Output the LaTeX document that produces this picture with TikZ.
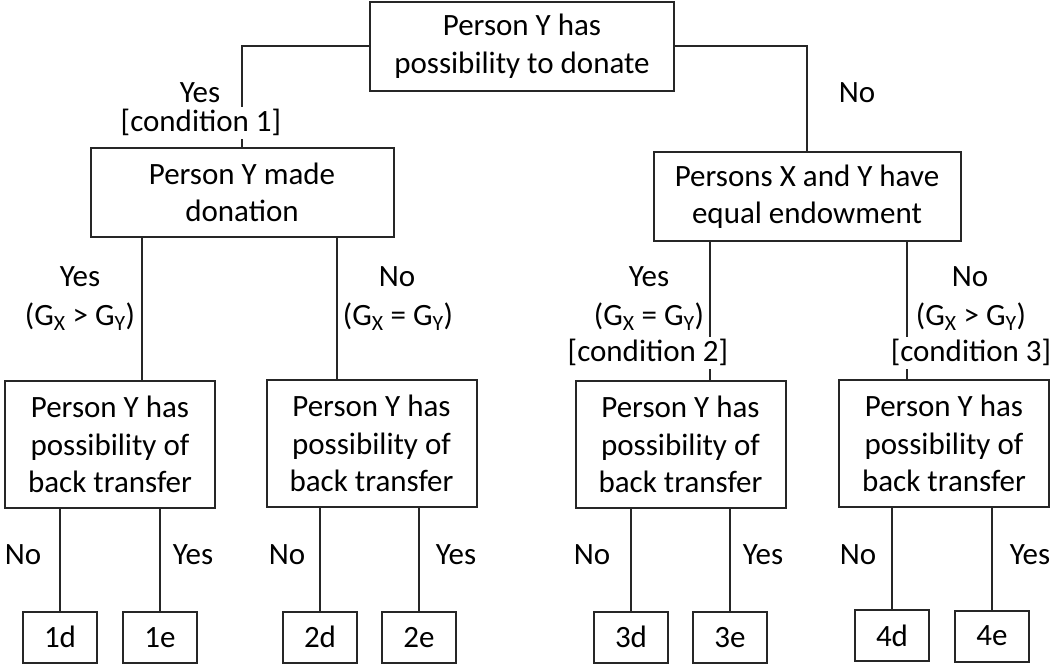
\documentclass[tikz,border=0pt]{standalone}
\usepackage{fontspec}
\setmainfont{Carlito}
\begin{document}
\begin{tikzpicture}[x=1pt,y=-1pt,
  every node/.style={font=\fontsize{31}{37.5}\selectfont, text=black},
  box/.style={draw=black!85, line width=2pt, align=center, inner sep=0pt},
  bigbox/.style={box, minimum width=#1, minimum height=89pt},
  btbox/.style={box, minimum width=210pt, minimum height=127pt},
  leaf/.style={box, minimum width=74pt, minimum height=51pt},
  lbl/.style={inner sep=0pt, text height=20pt, text depth=0pt, align=center},
  clbl/.style={fill=white, inner sep=0pt, text height=24pt, text depth=8pt},
  conn/.style={draw=black!85, line width=2pt}
]
\useasboundingbox (0,0) rectangle (1054,664);
% boxes
\node[bigbox=304pt] (root) at (522,46) {Person Y has\\possibility to donate};
\node[bigbox=303pt] (don) at (242,192.5) {Person Y made\\donation};
\node[bigbox=307pt] (eq) at (807,196.5) {Persons X and Y have\\equal endowment};
\node[btbox] (bt1) at (110,444.5) {Person Y has\\possibility of\\back transfer};
\node[btbox] (bt2) at (371.5,443.5) {Person Y has\\possibility of\\back transfer};
\node[btbox] (bt3) at (680.5,444.5) {Person Y has\\possibility of\\back transfer};
\node[btbox] (bt4) at (944,443.5) {Person Y has\\possibility of\\back transfer};
\node[leaf] (l1d) at (60,637) {1d};
\node[leaf] (l1e) at (160,637.5) {1e};
\node[leaf] (l2d) at (320,637) {2d};
\node[leaf] (l2e) at (419,637.5) {2e};
\node[leaf] (l3d) at (631,637) {3d};
\node[leaf] (l3e) at (730,637.5) {3e};
\node[leaf] (l4d) at (892,635.5) {4d};
\node[leaf] (l4e) at (992,636) {4e};
% lead coordinates
\coordinate (c1) at (142,0);
\coordinate (c2) at (337,0);
\coordinate (c3) at (710,0);
\coordinate (c4) at (907,0);
% connectors
\draw[conn] (root.west) -| (don.north);
\draw[conn] (root.east) -| (eq.north);
\draw[conn] (c1 |- don.south) -- (c1 |- bt1.north);
\draw[conn] (c2 |- don.south) -- (c2 |- bt2.north);
\draw[conn] (c3 |- eq.south) -- (c3 |- bt3.north);
\draw[conn] (c4 |- eq.south) -- (c4 |- bt4.north);
\draw[conn] (l1d.north) -- (l1d.north |- bt1.south);
\draw[conn] (l1e.north) -- (l1e.north |- bt1.south);
\draw[conn] (l2d.north) -- (l2d.north |- bt2.south);
\draw[conn] (l2e.north) -- (l2e.north |- bt2.south);
\draw[conn] (l3d.north) -- (l3d.north |- bt3.south);
\draw[conn] (l3e.north) -- (l3e.north |- bt3.south);
\draw[conn] (l4d.north) -- (l4d.north |- bt4.south);
\draw[conn] (l4e.north) -- (l4e.north |- bt4.south);
% labels
\node[lbl] (y1) at (200,92) {Yes};
\node[clbl] (k1) at (201,123) {[condition 1]};
\node[lbl] (n0) at (857,92) {No};
\node[lbl] (ya) at (80,276) {Yes};
\node[lbl] (ga) at (80,315) {(G\textsubscript{X} > G\textsubscript{Y})};
\node[lbl] (nb) at (397,276) {No};
\node[lbl] (gb) at (398,315) {(G\textsubscript{X} = G\textsubscript{Y})};
\node[lbl] (yc) at (649,276) {Yes};
\node[lbl] (gc) at (649,315) {(G\textsubscript{X} = G\textsubscript{Y})};
\node[clbl] (k2) at (648,353) {[condition 2]};
\node[lbl] (nd) at (970,276) {No};
\node[lbl] (gd) at (971,315) {(G\textsubscript{X} > G\textsubscript{Y})};
\node[clbl] (k3) at (971,353) {[condition 3]};
\node[lbl] at (23,554) {No};
\node[lbl] at (193,554) {Yes};
\node[lbl] at (287,554) {No};
\node[lbl] at (456,554) {Yes};
\node[lbl] at (592,554) {No};
\node[lbl] at (763,554) {Yes};
\node[lbl] at (858,554) {No};
\node[lbl] at (1030,554) {Yes};
\end{tikzpicture}
\end{document}
